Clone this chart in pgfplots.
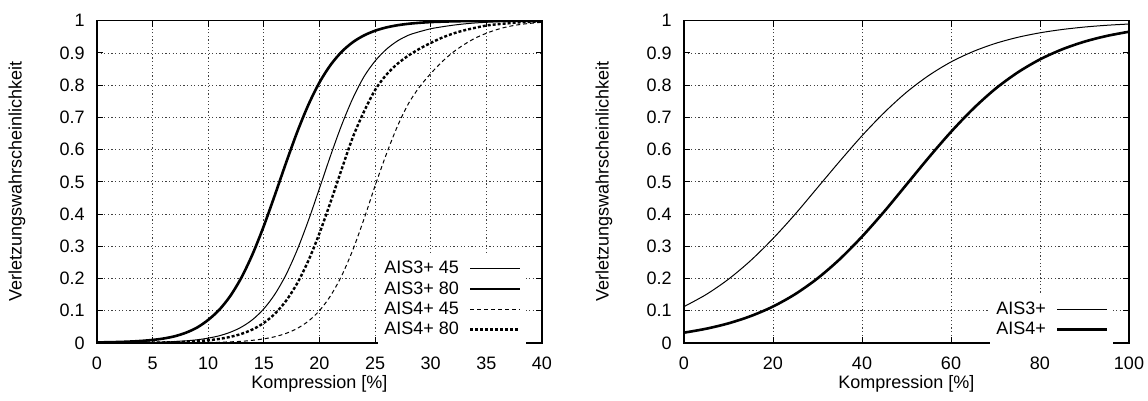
\documentclass[border=0pt]{standalone}
\usepackage{fontspec}
\setmainfont{Liberation Sans}
\usepackage{pgfplots}
\pgfplotsset{compat=1.18}
\usepackage{pgfplotstable}

\pgfplotstableread{
x  a45    a80    b45    b80
0  0.0003 0.0018 0.0001 0.0003
1  0.0005 0.0024 0.0001 0.0004
2  0.0008 0.0032 0.0002 0.0005
3  0.0012 0.0045 0.0002 0.0007
4  0.0015 0.0065 0.0003 0.0009
5  0.0020 0.0095 0.0004 0.0011
6  0.0030 0.0140 0.0005 0.0017
7  0.0045 0.0210 0.0007 0.0025
8  0.0067 0.0320 0.0009 0.0038
9  0.0100 0.0480 0.0012 0.0057
10 0.0151 0.0718 0.0015 0.0085
11 0.0225 0.1034 0.0023 0.0127
12 0.0336 0.1468 0.0036 0.0191
13 0.0497 0.2042 0.0052 0.0285
14 0.0730 0.2769 0.0084 0.0423
15 0.1062 0.3635 0.0129 0.0624
16 0.1519 0.4601 0.0196 0.0911
17 0.2125 0.5597 0.0299 0.1312
18 0.2891 0.6548 0.0452 0.1854
19 0.3799 0.7389 0.0678 0.2554
20 0.4800 0.8085 0.1005 0.3407
21 0.5818 0.8629 0.1468 0.4378
22 0.6770 0.9038 0.2092 0.5399
23 0.7595 0.9334 0.2891 0.6388
24 0.8263 0.9543 0.3846 0.7180
25 0.8750 0.9689 0.4880 0.7850
26 0.9110 0.9790 0.5850 0.8320
27 0.9370 0.9858 0.6720 0.8660
28 0.9550 0.9904 0.7430 0.8920
29 0.9660 0.9935 0.7950 0.9130
30 0.9750 0.9957 0.8360 0.9310
31 0.9810 0.9970 0.8720 0.9470
32 0.9860 0.9980 0.9020 0.9600
33 0.9900 0.9986 0.9260 0.9700
34 0.9930 0.9990 0.9460 0.9780
35 0.9950 0.9994 0.9610 0.9850
36 0.9965 0.9996 0.9730 0.9890
37 0.9975 0.9997 0.9820 0.9920
38 0.9983 0.9998 0.9880 0.9950
39 0.9988 0.9999 0.9920 0.9965
40 0.9992 0.9999 0.9950 0.9975
}\leftdata

\pgfplotstableread{
x   a3     a4
0   0.1129 0.0320
5   0.1506 0.0443
10  0.1980 0.0610
15  0.2560 0.0835
20  0.3240 0.1131
25  0.4000 0.1517
30  0.4820 0.2004
35  0.5640 0.2600
40  0.6430 0.3300
45  0.7150 0.4080
50  0.7780 0.4916
55  0.8300 0.5754
60  0.8720 0.6550
65  0.9045 0.7270
70  0.9296 0.7890
75  0.9484 0.8395
80  0.9624 0.8800
85  0.9727 0.9112
90  0.9803 0.9350
95  0.9858 0.9527
100 0.9897 0.9658
}\rightdata

\pgfplotsset{
  gp/.style={
    scale only axis, width=222.5pt, height=161.15pt,
    ymin=0, ymax=1,
    ytick={0,0.1,0.2,0.3,0.4,0.5,0.6,0.7,0.8,0.9,1},
    grid=major,
    major grid style={black!75, line width=0.4pt, dash pattern=on 0.6pt off 1.2pt},
    axis line style={line width=0.7pt},
    tick align=inside, tick pos=both, major tick length=3pt,
    tick style={black, line width=0.5pt},
    /pgf/number format/assume math mode=true,
    tick label style={font=\fontsize{9}{10}\selectfont},
    label style={font=\fontsize{9}{10}\selectfont},
    yticklabel style={xshift=-2.6pt},
    xticklabel style={yshift=-3.6pt},
    xlabel style={at={(axis description cs:0.5,-0.127)}, anchor=center},
    ylabel style={at={(axis description cs:-0.18,0.5)}, anchor=center},
    legend cell align=right,
    legend plot pos=right,
    legend style={at={(1,0)}, anchor=south east, xshift=-8pt, yshift=-0.5pt,
      draw=none, fill=white, inner sep=2pt, row sep=0pt, column sep=4pt,
      font=\fontsize{9}{10}\selectfont,
      nodes={inner sep=1pt, text height=6.6pt, text depth=1.5pt}},
    legend image code/.code={\draw[#1] (0pt,0pt) -- (25pt,0pt);},
    every axis plot/.append style={mark=none, black},
  }
}

\begin{document}
\begin{tikzpicture}
\begin{axis}[gp, at={(48.5pt,29pt)}, anchor=south west,
  xmin=0, xmax=40, xtick={0,5,10,15,20,25,30,35,40},
  xlabel={Kompression [\%]}, ylabel={Verletzungswahrscheinlichkeit}]
\addplot[line width=0.5pt, smooth] table[x=x, y=a45] {\leftdata};
\addlegendentry{AIS3+ 45}
\addplot[line width=1.3pt, smooth] table[x=x, y=a80] {\leftdata};
\addlegendentry{AIS3+ 80}
\addplot[line width=0.5pt, smooth, dash pattern=on 2pt off 1.5pt] table[x=x, y=b45] {\leftdata};
\addlegendentry{AIS4+ 45}
\addplot[line width=1.2pt, smooth, dash pattern=on 1.5pt off 1pt] table[x=x, y=b80] {\leftdata};
\addlegendentry{AIS4+ 80}
\end{axis}
\begin{axis}[gp, at={(342pt,29pt)}, anchor=south west,
  xmin=0, xmax=100, xtick={0,20,40,60,80,100},
  xlabel={Kompression [\%]}, ylabel={Verletzungswahrscheinlichkeit}]
\addplot[line width=0.5pt, smooth] table[x=x, y=a3] {\rightdata};
\addlegendentry{AIS3+}
\addplot[line width=1.3pt, smooth] table[x=x, y=a4] {\rightdata};
\addlegendentry{AIS4+}
\end{axis}
\pgfresetboundingbox
\path (0pt,0pt) rectangle (574pt,200.5pt);
\end{tikzpicture}
\end{document}
